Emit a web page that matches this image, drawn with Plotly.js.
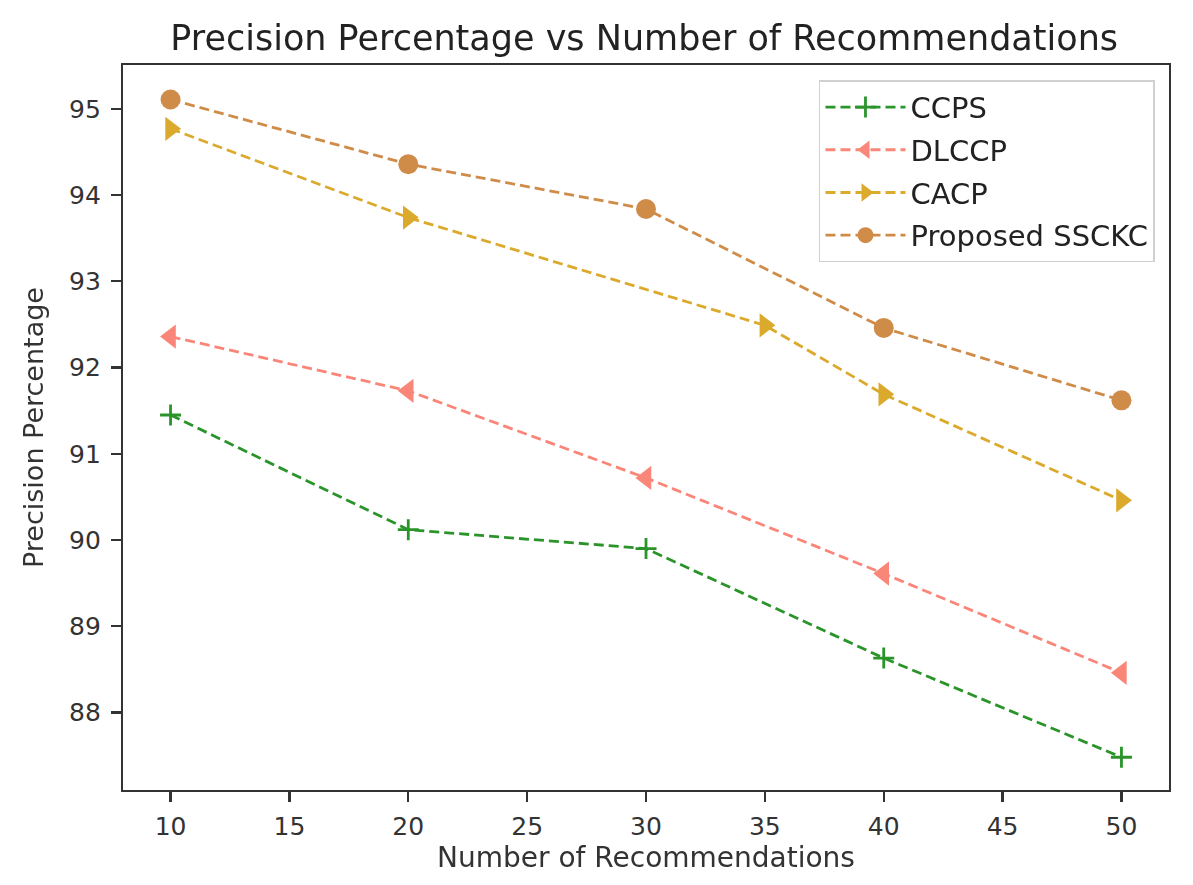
<!DOCTYPE html>
<html>
<head>
<meta charset="utf-8">
<script src="https://cdn.plot.ly/plotly-3.0.1.min.js"></script>
<style>html,body{margin:0;padding:0;background:#fff;}#chart{width:1193px;height:885px;}</style>
</head>
<body>
<div id="chart"></div>
<script>
const seriesNames = ["CCPS", "DLCCP", "CACP", "Proposed SSCKC"];
const xCCPS = [10, 20, 30, 40, 50];
const yCCPS = [91.45, 90.12, 89.90, 88.63, 87.48];
const xDLCCP = [10, 20, 30, 40, 50];
const yDLCCP = [92.36, 91.73, 90.72, 89.61, 88.46];
const xCACP = [10, 20, 35, 40, 50];
const yCACP = [94.77, 93.74, 92.49, 91.69, 90.46];
const xSSCKC = [10, 20, 30, 40, 50];
const ySSCKC = [95.11, 94.36, 93.84, 92.46, 91.62];
const xTicks = [10, 15, 20, 25, 30, 35, 40, 45, 50];
const yTicks = [88, 89, 90, 91, 92, 93, 94, 95];

const font = "DejaVu Sans, sans-serif";
function tr(x, y, name, color, symbol, size) {
  return {
    x: x, y: y, name: name, type: "scatter", mode: "lines+markers",
    legendgroup: name,
    line: {color: color, dash: "10px,5px", width: 2.8},
    marker: {color: color, symbol: symbol, size: size, line: {width: 0, color: color}},
    opacity: 0.95
  };
}
const data = [
  tr(xCCPS, yCCPS, seriesNames[0], "#1f8f1f", "cross-thin-open", 15),
  tr(xDLCCP, yDLCCP, seriesNames[1], "#fa8072", "triangle-left", 21),
  tr(xCACP, yCACP, seriesNames[2], "#daa520", "triangle-right", 21),
  tr(xSSCKC, ySSCKC, seriesNames[3], "#cd853f", "circle", 20)
];
data[0].marker.line = {width: 2.8, color: "#1f8f1f"};

const layout = {
  width: 1193, height: 885,
  paper_bgcolor: "#fff", plot_bgcolor: "#fff",
  margin: {l: 123, r: 24, t: 65, b: 95},
  font: {family: font, color: "#222"},
  title: {text: "Precision Percentage vs Number of Recommendations", font: {size: 35, family: font, color: "#222"}, x: 0.54, xanchor: "center", y: 0.957, yanchor: "middle"},
  xaxis: {
    range: [8, 52], tickvals: xTicks, ticktext: xTicks.map(String),
    showgrid: false, zeroline: false, showline: true, mirror: true, linecolor: "#333", linewidth: 2.2,
    ticks: "outside", ticklen: 10, tickwidth: 2.2, tickcolor: "#333",
    ticklabelstandoff: 3,
    tickfont: {size: 25, family: font, color: "#333"},
    title: {text: "Number of Recommendations", font: {size: 28, family: font, color: "#333"}, standoff: 6}
  },
  yaxis: {
    range: [87.1, 95.51], tickvals: yTicks, ticktext: yTicks.map(String),
    showgrid: false, zeroline: false, showline: true, mirror: true, linecolor: "#333", linewidth: 2.2,
    ticks: "outside", ticklen: 10, tickwidth: 2.2, tickcolor: "#333",
    ticklabelstandoff: 5,
    tickfont: {size: 25, family: font, color: "#333"},
    title: {text: "Precision Percentage", font: {size: 27, family: font, color: "#333"}, standoff: 18}
  },
  legend: {
    x: 0.9866, xanchor: "right", y: 0.979, yanchor: "top",
    bgcolor: "rgba(255,255,255,0.9)", bordercolor: "#d0d0d0", borderwidth: 1.5,
    font: {size: 29, family: font, color: "#222"},
    traceorder: "grouped", tracegroupgap: 2, itemwidth: 80
  },
  showlegend: true
};
Plotly.newPlot("chart", data, layout, {displayModeBar: false, staticPlot: true});
</script>
</body>
</html>
